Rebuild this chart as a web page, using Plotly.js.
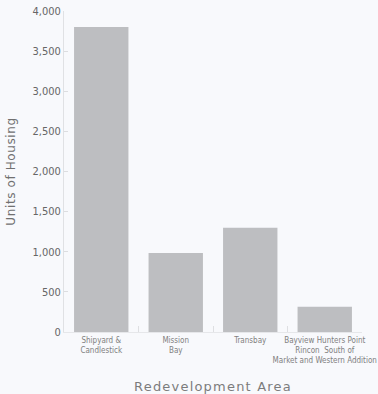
<!DOCTYPE html>
<html>
<head>
<meta charset="utf-8">
<script src="https://cdn.plot.ly/plotly-3.0.1.min.js"></script>
<style>
html,body{margin:0;padding:0;background:#f8f9fc;}
#chart{width:378px;height:394px;}
.xtitle{letter-spacing:1.2px;}
.ytitle{letter-spacing:0.6px;}
</style>
</head>
<body>
<div id="chart"></div>
<script>
const categories = ["Shipyard &<br>Candlestick", "Mission<br>Bay", "Transbay", "Bayview Hunters Point<br>Rincon  South of<br>Market and Western Addition"];
const units = [3800, 985, 1300, 315];
const yTickVals = [0, 500, 1000, 1500, 2000, 2500, 3000, 3500, 4000];
const yTickText = ["0", "500", "1,000", "1,500", "2,000", "2,500", "3,000", "3,500", "4,000"];

const trace = {
  type: "bar",
  x: categories,
  y: units,
  marker: {color: "#bdbec1", line: {width: 0}},
  hoverinfo: "none"
};

const layout = {
  width: 378, height: 394,
  margin: {l: 64, r: 16, t: 11, b: 62},
  paper_bgcolor: "#f8f9fc",
  plot_bgcolor: "#f8f9fc",
  bargap: 0.27,
  showlegend: false,
  font: {family: "Liberation Sans Narrow, DejaVu Sans Condensed, sans-serif", color: "#6b6b6b"},
  xaxis: {
    type: "category",
    showgrid: false,
    zeroline: false,
    showline: true,
    linecolor: "#e6e7ea",
    linewidth: 1,
    ticks: "inside",
    tickson: "boundaries",
    ticklen: 6,
    tickcolor: "#dedfe2",
    tickfont: {size: 8, color: "#808080", family: "DejaVu Sans Condensed, Liberation Sans Narrow, sans-serif"},
    tickangle: 0,
    automargin: false,
    title: {text: "Redevelopment Area", font: {size: 13, color: "#7c7c7c", family: "DejaVu Sans, sans-serif"}, standoff: 17}
  },
  yaxis: {
    range: [0, 4000],
    tickvals: yTickVals,
    ticktext: yTickText,
    showgrid: false,
    zeroline: false,
    showline: true,
    linecolor: "#e0e1e4",
    linewidth: 1,
    ticks: "inside",
    ticklen: 4,
    tickcolor: "#dcdde0",
    tickfont: {size: 11, color: "#666666", family: "DejaVu Sans Condensed, Liberation Sans Narrow, sans-serif"},
    automargin: false,
    title: {text: "Units of Housing", font: {size: 12, color: "#707070", family: "DejaVu Sans, sans-serif"}, standoff: 14}
  }
};

Plotly.newPlot("chart", [trace], layout, {staticPlot: true, displayModeBar: false});
</script>
</body>
</html>
